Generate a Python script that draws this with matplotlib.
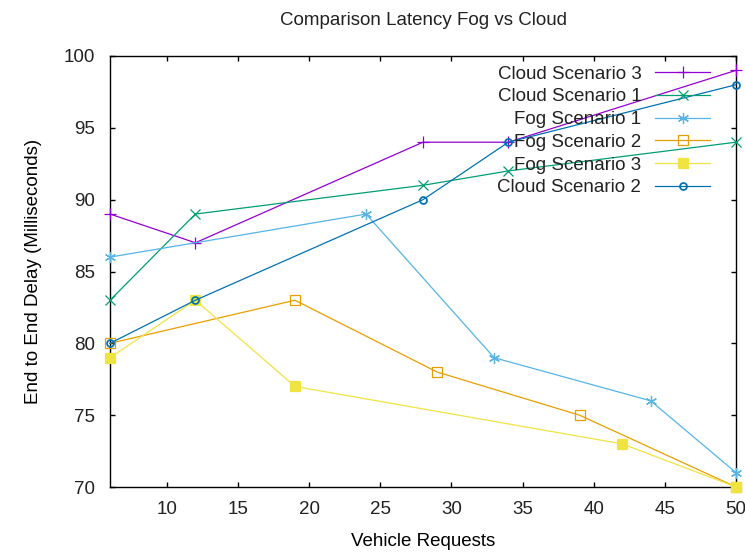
import matplotlib
matplotlib.use("Agg")
import matplotlib.pyplot as plt

plt.rcParams['font.family'] = ['Liberation Sans', 'DejaVu Sans']
plt.rcParams['text.color'] = '#222222'

title = "Comparison Latency Fog vs Cloud"
xlabel = "Vehicle Requests"
ylabel = "End to End Delay (Milliseconds)"

cloud3_x = [6, 12, 28, 34, 50]
cloud3_y = [89, 87, 94, 94, 99]
cloud1_x = [6, 12, 28, 34, 50]
cloud1_y = [83, 89, 91, 92, 94]
fog1_x = [6, 24, 33, 44, 50]
fog1_y = [86, 89, 79, 76, 71]
fog2_x = [6, 19, 29, 39, 50]
fog2_y = [80, 83, 78, 75, 70]
fog3_x = [6, 12, 19, 42, 50]
fog3_y = [79, 83, 77, 73, 70]
cloud2_x = [6, 12, 28, 34, 50]
cloud2_y = [80, 83, 90, 94, 98]

xticks = [10, 15, 20, 25, 30, 35, 40, 45, 50]
yticks = [70, 75, 80, 85, 90, 95, 100]

fig = plt.figure(figsize=(7.45, 5.52), dpi=100)
ax = fig.add_axes([110/745, 1-487/552, (736-110)/745, (487-56)/552])

lw = 0.9
ms = 7
common = dict(lw=lw, mew=lw, clip_on=False)
ax.plot(cloud3_x, cloud3_y, color='#9400d3', marker='+', ms=ms+2, label='Cloud Scenario 3', **common)
ax.plot(cloud1_x, cloud1_y, color='#009e73', marker='x', ms=ms, label='Cloud Scenario 1', **common)
ax.plot(fog1_x, fog1_y, color='#56b4e9', marker=(6, 2, 0), ms=ms+1, label='Fog Scenario 1', **common)
ax.plot(fog2_x, fog2_y, color='#e69f00', marker='s', ms=ms, mfc='none', label='Fog Scenario 2', **common)
ax.plot(fog3_x, fog3_y, color='#f0e442', marker='s', ms=ms, label='Fog Scenario 3', **common)
ax.plot(cloud2_x, cloud2_y, color='#0072b2', marker='o', ms=ms-2, mfc='none', label='Cloud Scenario 2',
        lw=lw, mew=lw*1.4, clip_on=False)

ax.set_xlim(6, 50)
ax.set_ylim(70, 100)
ax.set_xticks(xticks)
ax.set_yticks(yticks)
ax.tick_params(direction='in', top=True, right=True, length=3.6, width=1,
               labelsize=13.5, color='black', labelcolor='#222222')
ax.tick_params(axis='y', pad=11)
ax.tick_params(axis='x', pad=10)
for s in ax.spines.values():
    s.set_linewidth(1)
    s.set_zorder(0.5)

ax.set_title(title, fontsize=13.5, pad=22)
ax.set_xlabel(xlabel, fontsize=13.5, labelpad=11)
ax.set_ylabel(ylabel, fontsize=13.5, labelpad=15.5)

leg = ax.legend(loc='upper right', frameon=False, markerfirst=False, fontsize=13.5,
                handlelength=2.9, labelspacing=0.3, handletextpad=0.75,
                borderaxespad=0, borderpad=0, bbox_to_anchor=(0.958, 0.978))

fig.savefig('out.png', dpi=100)
